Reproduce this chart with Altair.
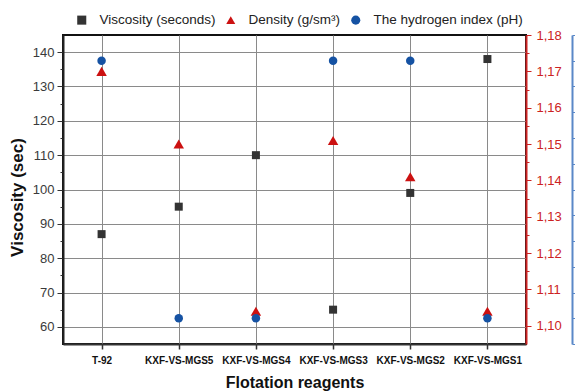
import altair as alt
import pandas as pd

reagents = ["T-92", "KXF-VS-MGS5", "KXF-VS-MGS4", "KXF-VS-MGS3", "KXF-VS-MGS2", "KXF-VS-MGS1"]
viscosity = [87, 95, 110, 65, 99, 138]
density = [1.170, 1.150, 1.104, 1.151, 1.141, 1.104]
ph = [8.0, 7.0, 7.0, 8.0, 8.0, 7.0]

series_names = ["Viscosity (seconds)", "Density (g/sm³)", "The hydrogen index (pH)"]
series_colors = ["#333333", "#cc1111", "#1552a3"]
series_shapes = ["square", "triangle-up", "circle"]

visc_ticks = [60, 65, 70, 75, 80, 85, 90, 95, 100, 105, 110, 115, 120, 125, 130, 135, 140]
dens_ticks = [1.100, 1.105, 1.110, 1.115, 1.120, 1.125, 1.130, 1.135, 1.140,
              1.145, 1.150, 1.155, 1.160, 1.165, 1.170, 1.175, 1.180]
ph_ticks = [6.9, 7.0, 7.1, 7.2, 7.3, 7.4, 7.5, 7.6, 7.7, 7.8, 7.9, 8.0, 8.1]

rows = []
for name, vals in zip(series_names, [viscosity, density, ph]):
    for r, v in zip(reagents, vals):
        rows.append({"reagent": r, "series": name, "value": v})
df = pd.DataFrame(rows)

FONT = "Liberation Sans"

x_enc = alt.X(
    "reagent:N",
    sort=reagents,
    scale=alt.Scale(domain=reagents),
    axis=alt.Axis(
        title="Flotation reagents",
        titleFont=FONT, titleFontSize=16, titleFontWeight="bold", titleColor="#111",
        titleY=38, titleBaseline="middle",
        labelFont=FONT, labelFontSize=10, labelFontWeight="bold", labelColor="#111",
        labelAngle=0, labelPadding=6, labelBaseline="top",
        tickSize=5, tickColor="#333", tickWidth=1.5,
        domainColor="#333", domainWidth=2,
        grid=True, gridColor="#8a8a8a", gridWidth=1,
    ),
)

legend = alt.Legend(
    title=None, orient="none", direction="horizontal",
    legendX=12, legendY=-22, padding=0,
    labelFont=FONT, labelFontSize=13.5, labelColor="#222",
    labelOffset=11, columnPadding=8, symbolSize=82,
    symbolStrokeWidth=0,
)
color_enc = alt.Color("series:N", scale=alt.Scale(domain=series_names, range=series_colors), legend=legend)
shape_enc = alt.Shape("series:N", scale=alt.Scale(domain=series_names, range=series_shapes), legend=legend)

base = alt.Chart(df)

visc_layer = base.transform_filter(alt.datum.series == series_names[0]).mark_point(
    filled=True, opacity=1, size=64
).encode(
    x=x_enc,
    y=alt.Y("value:Q", scale=alt.Scale(domain=[55, 145], nice=False, zero=False),
            axis=alt.Axis(
                title="Viscosity (sec)", orient="left",
                titleFont=FONT, titleFontSize=17, titleFontWeight="bold", titleColor="#111",
                titleX=-46, titleY=162, titleBaseline="middle", titleAngle=270,
                values=visc_ticks,
                labelExpr="datum.value % 10 === 0 ? datum.label : ''",
                labelFont=FONT, labelFontSize=13, labelColor="#3a3a3a", labelPadding=3,
                tickSize={"condition": {"test": "datum.value % 10 === 0", "value": 6}, "value": 3},
                tickColor="#333", tickWidth=1,
                domainColor="#222", domainWidth=2,
                grid=True, gridColor="#8a8a8a", gridWidth=1,
                gridOpacity={"condition": {"test": "datum.value % 10 === 0", "value": 1}, "value": 0},
            )),
    color=color_enc,
    shape=shape_enc,
)

dens_layer = base.transform_filter(alt.datum.series == series_names[1]).mark_point(
    filled=True, opacity=1, size=110
).encode(
    x=x_enc,
    y=alt.Y("value:Q", scale=alt.Scale(domain=[1.095, 1.18], nice=False, zero=False),
            axis=alt.Axis(
                title=None, orient="right",
                values=dens_ticks,
                labelExpr="round(datum.value * 1000) % 10 === 0 ? replace(format(datum.value, '.2f'), '.', ',') : ''",
                labelFont=FONT, labelFontSize=13, labelColor="#cc2222", labelPadding=5,
                tickSize={"condition": {"test": "round(datum.value * 1000) % 10 === 0", "value": 5}, "value": 3},
                tickColor="#cc2222", tickWidth=1,
                domainColor="#cc2222", domainWidth=2,
                grid=False,
            )),
    color=color_enc,
    shape=shape_enc,
)

ph_layer = base.transform_filter(alt.datum.series == series_names[2]).mark_point(
    filled=True, opacity=1, size=72
).encode(
    x=x_enc,
    y=alt.Y("value:Q", scale=alt.Scale(domain=[6.9, 8.1], nice=False, zero=False),
            axis=alt.Axis(
                title=None, orient="right", offset=46,
                values=ph_ticks, labels=False,
                tickSize=5, tickColor="#5a88c8", tickWidth=1,
                domainColor="#5a88c8", domainWidth=2,
                grid=False,
            )),
    color=color_enc,
    shape=shape_enc,
)

chart = alt.layer(visc_layer, dens_layer, ph_layer).resolve_scale(
    y="independent"
).properties(
    width=463, height=309,
    autosize=alt.AutoSizeParams(type="none"),
    padding={"left": 63, "top": 35, "right": 49, "bottom": 48},
    background="white",
).configure_view(
    stroke="#111", strokeWidth=2,
)

chart.save("out.html", embed_options={"renderer": "svg", "actions": False})
